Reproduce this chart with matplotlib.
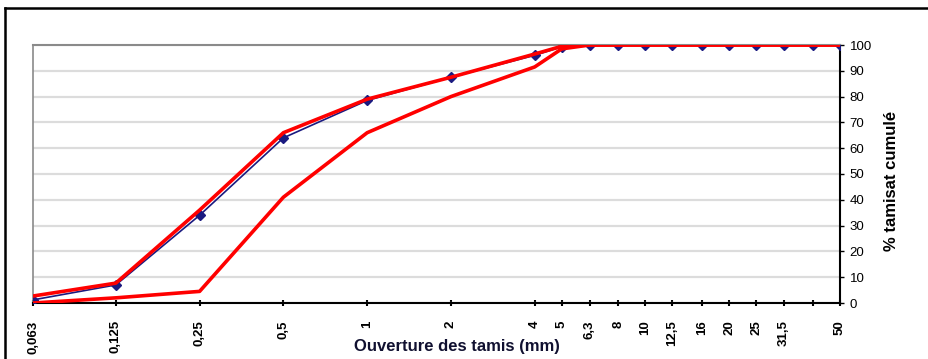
import matplotlib
matplotlib.use("Agg")
import matplotlib.pyplot as plt
from matplotlib.ticker import FixedLocator, NullLocator, FixedFormatter
from matplotlib.lines import Line2D

plt.rcParams['font.family'] = ['Liberation Sans', 'DejaVu Sans']

# Sieve openings (mm) and their axis labels
sieves = [0.063, 0.125, 0.25, 0.5, 1, 2, 4, 5, 6.3, 8, 10, 12.5, 16, 20, 25, 31.5, 40, 50]
sieve_labels = ["0,063", "0,125", "0,25", "0,5", "1", "2", "4", "5", "6,3", "8", "10",
                "12,5", "16", "20", "25", "31,5", "", "50"]

# Cumulative passing (%) of the sample
passing = [1.2, 7.0, 34.0, 64.0, 78.5, 87.5, 96.0, 99.3, 100, 100, 100, 100, 100, 100, 100, 100, 100, 100]
# Grading envelope: upper and lower limits (%)
upper_limit = [2.7, 7.7, 36.0, 66.0, 79.0, 87.5, 96.5, 99.5, 100, 100, 100, 100, 100, 100, 100, 100, 100, 100]
lower_limit = [0.0, 2.0, 4.5, 41.0, 66.0, 80.0, 91.5, 98.5, 100, 100, 100, 100, 100, 100, 100, 100, 100, 100]

y_ticks = list(range(0, 101, 10))

fig = plt.figure(figsize=(9.29, 3.59), dpi=100)
ax = fig.add_axes([33 / 929, 1 - 303 / 359, (840 - 33) / 929, (303 - 45) / 359])

ax.plot(sieves, passing, color="#1a1a80", lw=1.2, marker="D", ms=5,
        mfc="#1a1a80", mec="#1a1a80", zorder=3)
ax.plot(sieves, upper_limit, color="#ff0000", lw=2.6, zorder=4)
ax.plot(sieves, lower_limit, color="#ff0000", lw=2.6, zorder=4)

ax.set_xscale("log")
ax.set_xlim(sieves[0], sieves[-1])
ax.set_ylim(0, 100)
ax.xaxis.set_major_locator(FixedLocator(sieves))
ax.xaxis.set_major_formatter(FixedFormatter(sieve_labels))
ax.xaxis.set_minor_locator(NullLocator())
ax.set_yticks(y_ticks)

ax.yaxis.tick_right()
ax.yaxis.set_label_position("right")
ax.tick_params(axis="y", which="major", direction="out", length=3, width=1,
               labelsize=9.5, pad=4, colors="black")
ax.tick_params(axis="x", which="major", direction="inout", length=5, width=1.5,
               labelsize=9.5, pad=10)
for lbl in ax.get_xticklabels():
    lbl.set_rotation(90)
    lbl.set_fontweight("bold")
    lbl.set_va("top")
    lbl.set_ha("center")

ax.grid(axis="y", color="#dcdcdc", lw=1.6)
ax.set_axisbelow(True)

ax.spines["left"].set_color("#8a8a8a")
ax.spines["top"].set_color("#8a8a8a")
ax.spines["left"].set_linewidth(1.2)
ax.spines["top"].set_linewidth(1.5)
ax.spines["bottom"].set_color("black")
ax.spines["right"].set_color("black")
ax.spines["bottom"].set_linewidth(1.5)
ax.spines["right"].set_linewidth(1.5)

fig.text(457 / 929, 1 - 347 / 359, "Ouverture des tamis (mm)", ha="center", va="center",
         fontsize=12, fontweight="bold", color="#101030")
fig.text(892 / 929, 1 - 181 / 359, "% tamisat cumulé", ha="center", va="center",
         rotation=90, fontsize=12, fontweight="bold", color="black")

# Chart frame (left and top edges)
fig.add_artist(Line2D([5 / 929, 5 / 929], [0, 1 - 8 / 359], transform=fig.transFigure,
                      color="black", lw=1.8))
fig.add_artist(Line2D([5 / 929, 1], [1 - 8 / 359, 1 - 8 / 359], transform=fig.transFigure,
                      color="black", lw=1.8))

fig.savefig("out.png", dpi=100)
